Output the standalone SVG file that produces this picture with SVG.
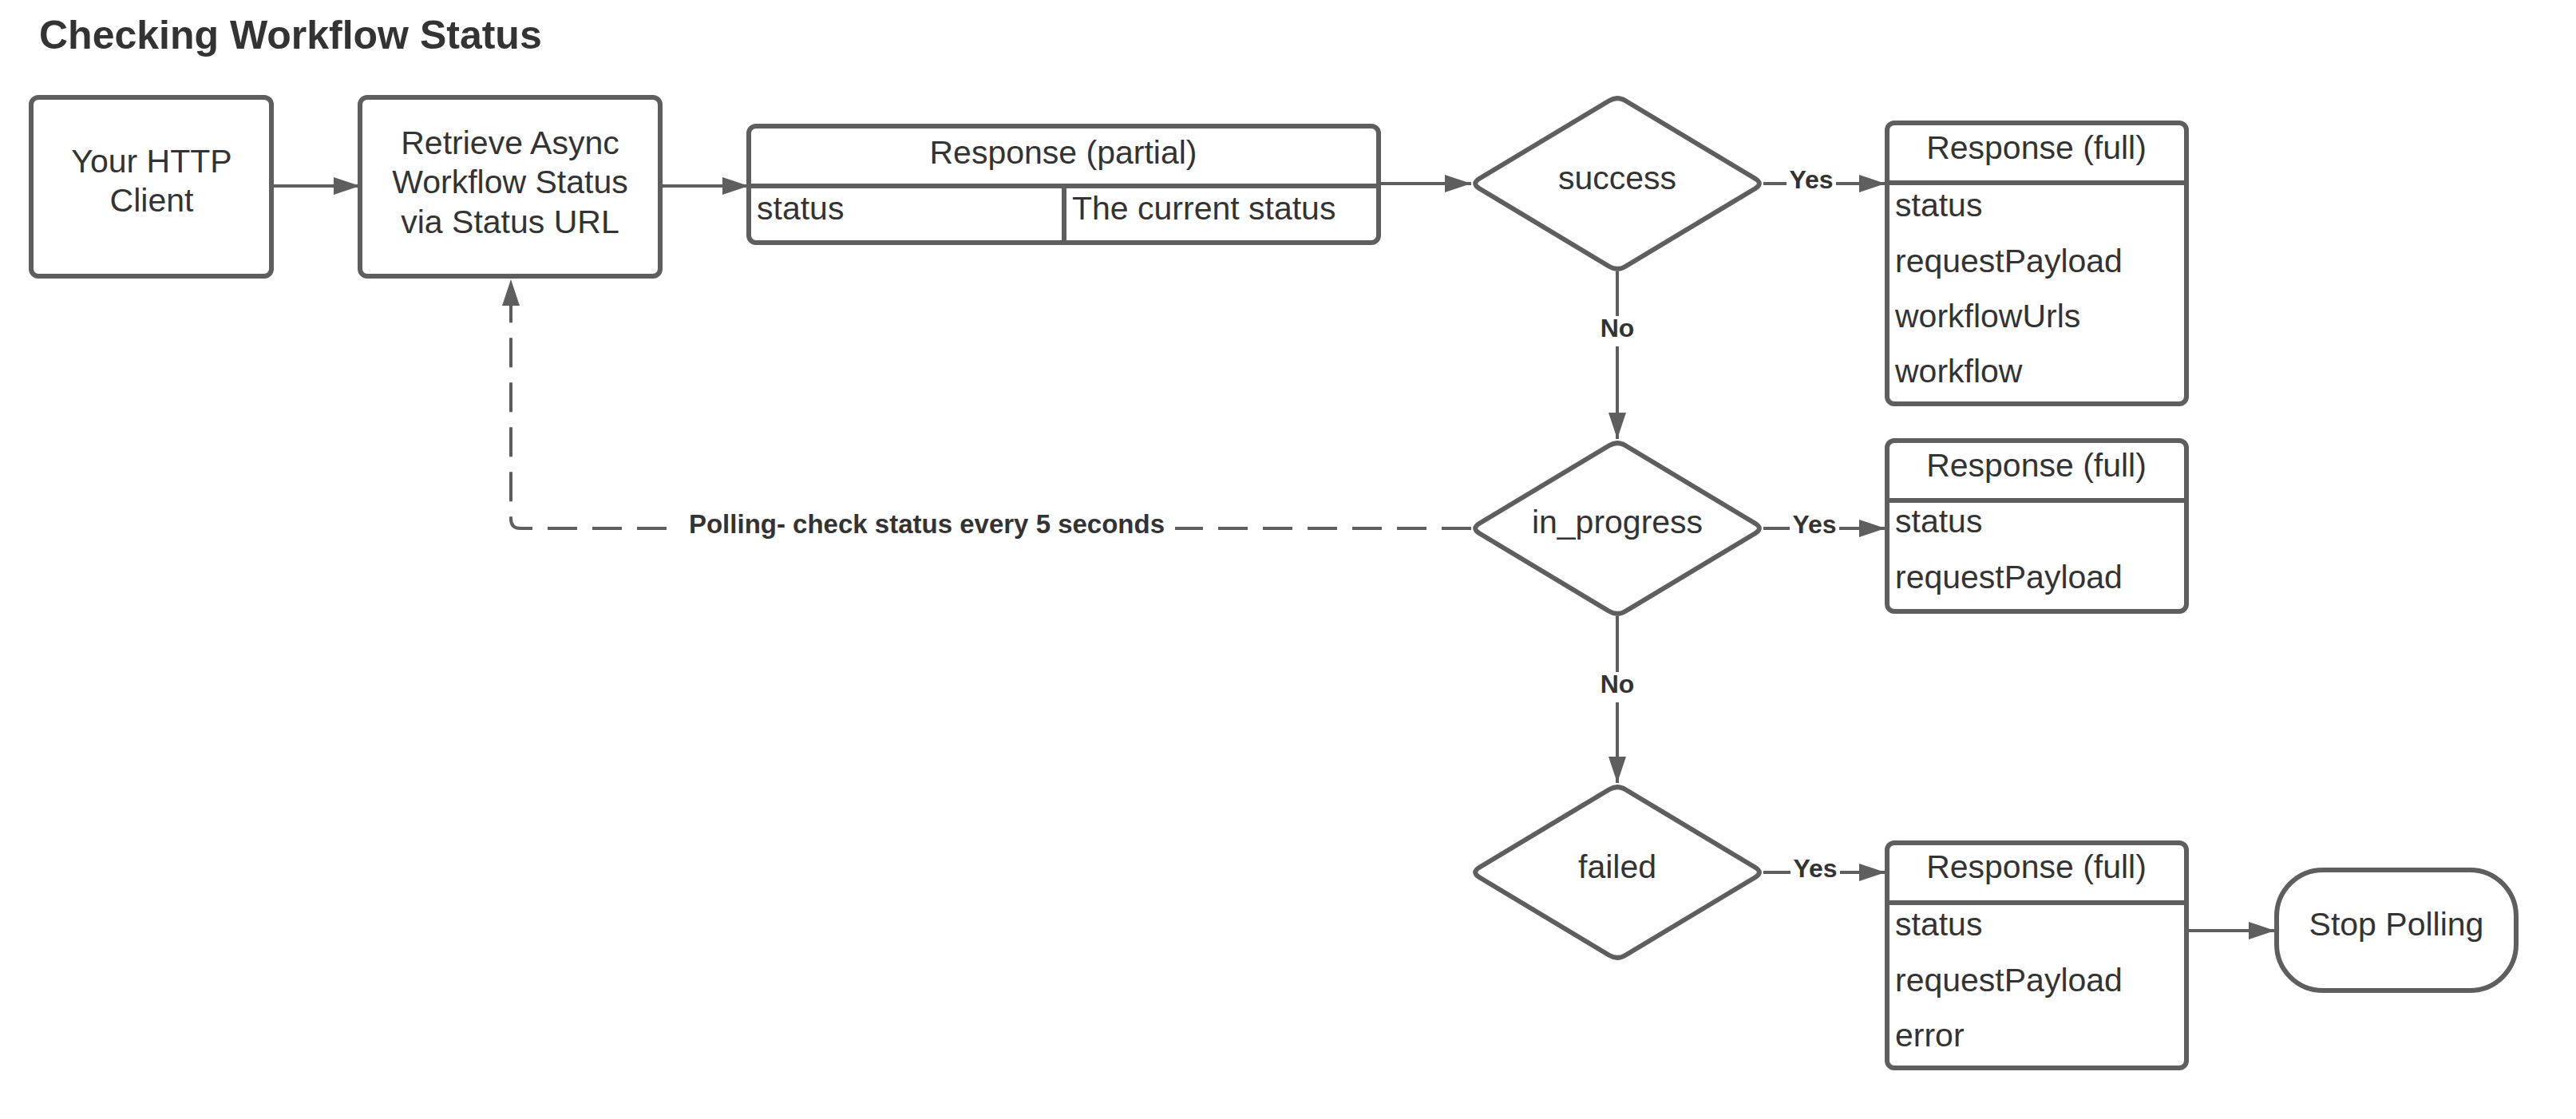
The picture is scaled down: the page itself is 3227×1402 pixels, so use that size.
<svg xmlns="http://www.w3.org/2000/svg" width="3227" height="1402" viewBox="0 0 3227 1402">
<style>
.box{fill:#fff;stroke:#5e5e5e;stroke-width:6}
.div{stroke:#5e5e5e;stroke-width:6;fill:none}
.t{font-family:"Liberation Sans",Arial,sans-serif;font-size:41px;fill:#333}
.c{text-anchor:middle}
.title{font-family:"Liberation Sans",Arial,sans-serif;font-size:50px;font-weight:bold;fill:#333}
.lbl{font-family:"Liberation Sans",Arial,sans-serif;font-size:32px;font-weight:bold;fill:#333;text-anchor:middle}
.conn{stroke:#5e5e5e;stroke-width:4;fill:none}
.dash{stroke-dasharray:37 19}
.bg{fill:#fff}
</style>
<defs>
<marker id="arr" markerUnits="userSpaceOnUse" markerWidth="34" markerHeight="24" refX="33" refY="11" orient="auto">
<path d="M0,0 L33,11 L0,22 Z" fill="#5e5e5e"/>
</marker>
<path id="dia" d="M -172.7,-6.2 L -10.3,-103.8 Q 0,-110 10.3,-103.8 L 172.7,-6.2 Q 183,0 172.7,6.2 L 10.3,103.8 Q 0,110 -10.3,103.8 L -172.7,6.2 Q -183,0 -172.7,-6.2 Z"/>
</defs>
<rect width="3227" height="1402" fill="#fff"/>
<text class="title" x="49" y="61">Checking Workflow Status</text>

<g id="connectors">
<line class="conn" x1="340" y1="233" x2="451" y2="233" marker-end="url(#arr)"/>
<line class="conn" x1="827" y1="233" x2="938" y2="233" marker-end="url(#arr)"/>
<line class="conn" x1="1727" y1="230" x2="1843" y2="230" marker-end="url(#arr)"/>
<line class="conn" x1="2209" y1="230" x2="2362" y2="230" marker-end="url(#arr)"/>
<line class="conn" x1="2026" y1="340" x2="2026" y2="550" marker-end="url(#arr)"/>
<line class="conn" x1="2209" y1="662" x2="2362" y2="662" marker-end="url(#arr)"/>
<line class="conn" x1="2026" y1="772" x2="2026" y2="981" marker-end="url(#arr)"/>
<line class="conn" x1="2209" y1="1093" x2="2362" y2="1093" marker-end="url(#arr)"/>
<line class="conn" x1="2738" y1="1166" x2="2850" y2="1166" marker-end="url(#arr)"/>
<path class="conn dash" d="M 1843,662 L 652,662 Q 640,662 640,650 L 640,350" marker-end="url(#arr)"/>
<rect class="bg" x="2238" y="212" width="62" height="34"/>
<text class="lbl" x="2269" y="236">Yes</text>
<rect class="bg" x="2000" y="396" width="52" height="38"/>
<text class="lbl" x="2026" y="422">No</text>
<rect class="bg" x="2242" y="644" width="62" height="34"/>
<text class="lbl" x="2273" y="668">Yes</text>
<rect class="bg" x="2000" y="842" width="52" height="38"/>
<text class="lbl" x="2026" y="868">No</text>
<rect class="bg" x="2243" y="1075" width="62" height="34"/>
<text class="lbl" x="2274" y="1099">Yes</text>
<rect class="bg" x="852" y="640" width="620" height="40"/>
<text class="lbl" x="1161" y="668" style="font-size:33px">Polling- check status every 5 seconds</text>
</g>

<g id="client">
<rect class="box" x="39" y="122" width="301" height="224" rx="9"/>
<text class="t c" x="190" y="216">Your HTTP</text>
<text class="t c" x="190" y="265">Client</text>
</g>

<g id="retrieve">
<rect class="box" x="451" y="122" width="376" height="224" rx="9"/>
<text class="t c" x="639" y="193">Retrieve Async</text>
<text class="t c" x="639" y="242">Workflow Status</text>
<text class="t c" x="639" y="292">via Status URL</text>
</g>

<g id="response-partial">
<rect class="box" x="938" y="158" width="789" height="146" rx="9"/>
<line class="div" x1="938" y1="233" x2="1727" y2="233"/>
<line class="div" x1="1333" y1="233" x2="1333" y2="304"/>
<text class="t c" x="1332" y="205">Response (partial)</text>
<text class="t" x="948" y="275">status</text>
<text class="t" x="1343" y="275">The current status</text>
</g>

<g id="success">
<use href="#dia" x="2026" y="230" class="box"/>
<text class="t c" x="2026" y="237">success</text>
</g>

<g id="in-progress">
<use href="#dia" x="2026" y="662" class="box"/>
<text class="t c" x="2026" y="668">in_progress</text>
</g>

<g id="failed">
<use href="#dia" x="2026" y="1093" class="box"/>
<text class="t c" x="2026" y="1100">failed</text>
</g>

<g id="response-full-success">
<rect class="box" x="2364" y="154" width="375" height="352" rx="9"/>
<line class="div" x1="2364" y1="229" x2="2739" y2="229"/>
<text class="t c" x="2551" y="199">Response (full)</text>
<text class="t" x="2374" y="271">status</text>
<text class="t" x="2374" y="341">requestPayload</text>
<text class="t" x="2374" y="410">workflowUrls</text>
<text class="t" x="2374" y="479">workflow</text>
</g>

<g id="response-full-progress">
<rect class="box" x="2364" y="552" width="375" height="214" rx="9"/>
<line class="div" x1="2364" y1="627" x2="2739" y2="627"/>
<text class="t c" x="2551" y="597">Response (full)</text>
<text class="t" x="2374" y="667">status</text>
<text class="t" x="2374" y="737">requestPayload</text>
</g>

<g id="response-full-failed">
<rect class="box" x="2364" y="1056" width="375" height="282" rx="9"/>
<line class="div" x1="2364" y1="1131" x2="2739" y2="1131"/>
<text class="t c" x="2551" y="1100">Response (full)</text>
<text class="t" x="2374" y="1172">status</text>
<text class="t" x="2374" y="1242">requestPayload</text>
<text class="t" x="2374" y="1311">error</text>
</g>

<g id="stop-polling">
<rect class="box" x="2852" y="1090" width="300" height="151" rx="58" ry="58"/>
<text class="t c" x="3002" y="1172">Stop Polling</text>
</g>
</svg>
